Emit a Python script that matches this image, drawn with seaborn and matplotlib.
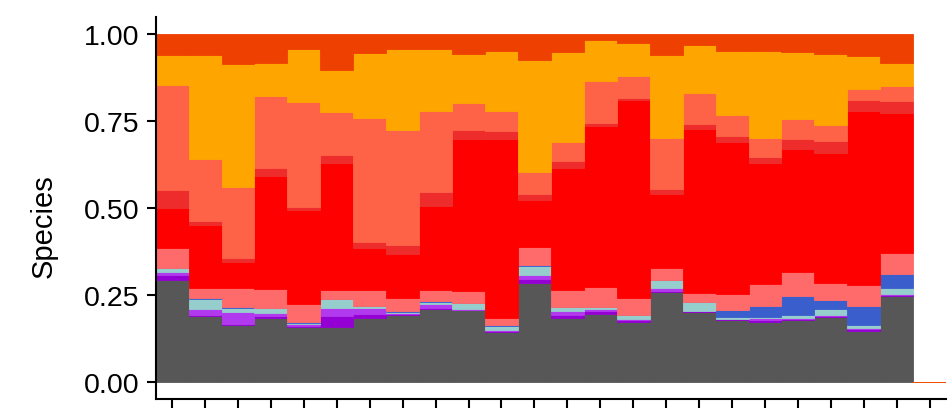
import numpy as np
import pandas as pd
import matplotlib
matplotlib.use("Agg")
import matplotlib.pyplot as plt
import seaborn as sns

# samples along the x axis (the last one is empty)
samples = list(range(1, 25))

# layers, bottom to top
species = ["sp01", "sp02", "sp03", "sp04", "sp05", "sp06",
           "sp07", "sp08", "sp09", "sp10", "sp11"]
colors = ["#575757", "#9400D3", "#B23AEE", "#96CDCD", "#3A5FCD", "#FF6A6A",
          "#FF0000", "#EE2C2C", "#FF6347", "#FFA500", "#EE4000"]

# relative abundance (%) per sample, one list per species
sp01 = [29.4, 18.8, 16.2, 18.4, 15.6, 15.6, 18.2, 19.0, 21.0, 20.7, 14.4, 28.5,
        18.4, 19.6, 17.3, 25.9, 19.9, 17.6, 17.3, 17.6, 18.7, 14.7, 24.5, 0]
sp02 = [1.2, 0.5, 0.3, 0.6, 0.4, 3.2, 1.2, 0.3, 0.3, 0.0, 0.2, 0.9,
        0.9, 0.6, 0.3, 0.3, 0.3, 0.3, 0.3, 0.3, 0.3, 0.3, 0.3, 0]
sp03 = [0.9, 1.7, 3.7, 0.6, 0.7, 2.3, 1.7, 0.3, 0.9, 0.3, 0.2, 1.2,
        0.9, 0.6, 0.3, 0.6, 0.1, 0.1, 0.6, 0.3, 0.3, 0.3, 0.3, 0]
sp04 = [1.2, 2.9, 0.9, 1.7, 0.3, 2.6, 0.6, 0.3, 0.6, 1.7, 1.2, 2.6,
        1.2, 0.6, 1.2, 2.3, 2.5, 0.5, 0.3, 0.9, 1.7, 0.9, 1.7, 0]
sp05 = [0.0, 0.3, 0.3, 0.0, 0.3, 0.0, 0.0, 0.3, 0.3, 0.0, 0.2, 0.3,
        0.0, 0.0, 0.0, 0.0, 0.0, 2.0, 3.2, 5.5, 2.6, 5.5, 4.3, 0]
sp06 = [5.8, 2.9, 5.5, 5.2, 5.0, 2.6, 4.6, 3.7, 3.2, 3.5, 2.0, 5.2,
        4.9, 5.8, 4.9, 3.7, 2.6, 4.6, 6.3, 6.9, 4.9, 6.1, 5.8, 0]
sp07 = [11.5, 17.9, 7.5, 32.6, 27.1, 36.6, 12.1, 12.7, 24.2, 43.5, 51.6, 13.5,
        35.2, 46.4, 57.1, 21.3, 47.3, 43.8, 34.9, 35.4, 37.5, 50.1, 40.3, 0]
sp08 = [5.2, 1.4, 1.4, 2.3, 0.9, 2.3, 1.7, 2.6, 4.0, 2.6, 2.3, 1.7,
        2.0, 0.9, 0.6, 1.2, 1.4, 1.7, 1.7, 2.9, 3.2, 3.2, 3.5, 0]
sp09 = [30.3, 17.6, 20.5, 20.7, 30.3, 12.4, 35.7, 33.1, 23.3, 7.8, 5.8, 6.3,
        5.5, 12.1, 6.3, 14.7, 8.9, 6.1, 5.5, 5.8, 4.6, 3.2, 4.3, 0]
sp10 = [8.6, 30.0, 35.4, 9.5, 15.3, 12.1, 18.7, 23.3, 17.9, 14.1, 17.3, 32.3,
        25.9, 11.8, 9.5, 23.9, 13.8, 18.4, 25.1, 19.3, 20.5, 9.5, 6.6, 0]
sp11 = [6.1, 6.1, 8.6, 8.4, 4.3, 10.4, 5.5, 4.3, 4.3, 5.8, 4.9, 7.5,
        5.2, 1.7, 2.6, 6.1, 3.2, 4.9, 4.9, 5.2, 5.8, 6.3, 8.4, 0]

abund = [sp01, sp02, sp03, sp04, sp05, sp06, sp07, sp08, sp09, sp10, sp11]

rows = []
for name, vals in zip(species, abund):
    for s, v in zip(samples, vals):
        rows.append({"sample": s, "species": name, "value": v})
df = pd.DataFrame(rows)
# convert to proportions within each sample
tot = df.groupby("sample")["value"].transform("sum").replace(0, 1)
df["prop"] = df["value"] / tot

sns.set_style("ticks")
plt.rcParams["font.family"] = ["Liberation Sans", "DejaVu Sans"]

fig = plt.figure(figsize=(9.49, 4.14), dpi=100)
ax = fig.add_axes([0.164, 0.034, 0.833, 0.923])

# seaborn stacks the first hue level on top, so reverse the order
sns.histplot(data=df, x="sample", hue="species", weights="prop",
             hue_order=species[::-1], palette=dict(zip(species, colors)),
             multiple="stack", discrete=True, shrink=1, alpha=1,
             legend=False, ax=ax)

for p in ax.patches:
    p.set_edgecolor(p.get_facecolor())
    p.set_linewidth(0.6)

ax.set_xlim(0.5, 24.5)
ax.set_ylim(-0.05, 1.05)
ax.set_xticks(samples)
ax.set_xticklabels([])
ax.set_yticks([0, 0.25, 0.5, 0.75, 1.0])
ax.set_yticklabels(["0.00", "0.25", "0.50", "0.75", "1.00"])
ax.set_xlabel("")
ax.set_ylabel("Species", fontsize=21, color="black")
ax.yaxis.set_label_coords(-0.124, 0.455)
ax.tick_params(axis="both", labelsize=20.5, width=1.5, length=6.5, pad=5,
               color="black", labelcolor="black")
for side in ["left", "bottom"]:
    ax.spines[side].set_linewidth(1.5)
    ax.spines[side].set_color("black")
sns.despine(ax=ax)

fig.savefig("out.png", dpi=100)
